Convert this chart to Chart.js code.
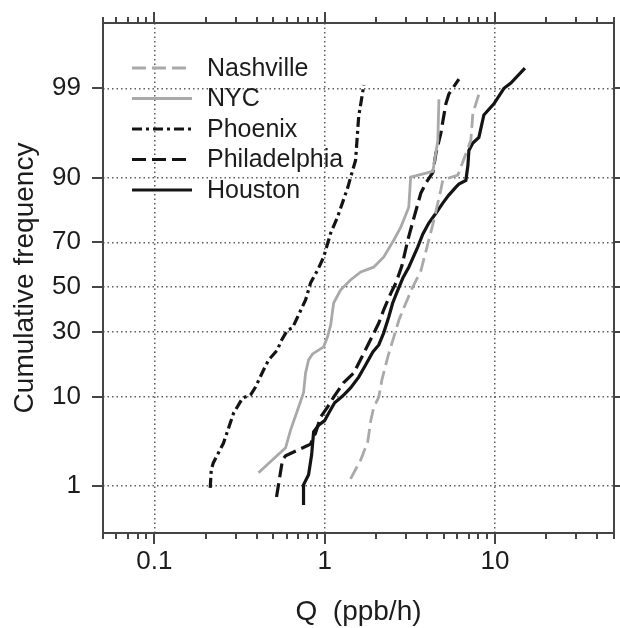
<!DOCTYPE html>
<html>
<head>
<meta charset="utf-8">
<title>Cumulative frequency</title>
<script src="https://cdn.jsdelivr.net/npm/chart.js@4.4.1/dist/chart.umd.min.js"></script>
<style>
  html, body { margin: 0; padding: 0; background: #fff; }
  #grafico { display: block; }
</style>
</head>
<body>
<canvas id="grafico" width="620" height="628"></canvas>
<script>
// Datos: Q (ppb/h) y frecuencia acumulada (%)
const nashvilleQ = [1.42, 1.63, 1.79, 1.87, 1.94, 2.08, 2.17, 2.35, 2.55, 2.73, 3.0, 3.29, 3.67, 4.09, 4.38, 4.81, 4.94, 6.06, 7.22, 7.42, 8.05];
const nashvilleP = [1.24, 2.16, 3.5, 6.0, 7.9, 9.9, 13.9, 20.7, 28.0, 35.0, 42.6, 50.0, 57.4, 70.9, 78.3, 87.2, 89.5, 90.5, 95.7, 97.9, 98.8];

const nycQ = [0.409, 0.59, 0.631, 0.694, 0.752, 0.773, 0.805, 0.85, 0.987, 1.04, 1.085, 1.13, 1.24, 1.42, 1.63, 1.94, 2.22, 2.55, 2.8, 3.12, 3.2, 4.32, 4.62, 4.69];
const nycP = [1.49, 3.0, 4.7, 7.5, 10.8, 15.7, 19.7, 21.7, 24.2, 28.0, 32.8, 42.6, 48.6, 53.3, 57.0, 59.2, 63.7, 70.9, 75.8, 82.5, 90.1, 91.2, 95.7, 98.6];

const phoenixQ = [0.213, 0.216, 0.222, 0.255, 0.292, 0.33, 0.367, 0.393, 0.438, 0.469, 0.529, 0.551, 0.606, 0.648, 0.694, 0.773, 0.827, 0.91, 0.987, 1.085, 1.19, 1.37, 1.42, 1.52, 1.585, 1.7];
const phoenixP = [0.94, 1.62, 1.98, 3.4, 7.0, 9.7, 10.3, 12.1, 16.6, 19.7, 23.1, 26.0, 30.8, 31.6, 36.3, 44.0, 51.9, 57.9, 63.7, 73.6, 79.3, 87.9, 90.0, 93.1, 97.7, 99.1];

const philadelphiaQ = [0.522, 0.566, 0.59, 0.827, 0.885, 0.947, 1.04, 1.13, 1.29, 1.48, 1.7, 1.92, 2.08, 2.22, 2.45, 2.62, 2.84, 3.08, 3.34, 3.67, 3.93, 4.32, 4.5, 4.81, 5.15, 5.36, 6.14];
const philadelphiaP = [0.70, 2.16, 2.41, 3.3, 4.4, 6.4, 8.0, 9.9, 13.1, 15.7, 22.0, 28.7, 33.7, 39.4, 47.2, 51.9, 59.7, 70.9, 79.0, 86.4, 88.8, 91.0, 94.1, 96.4, 98.4, 98.8, 99.25];

const houstonQ = [0.752, 0.752, 0.805, 0.839, 0.862, 0.922, 1.0, 1.056, 1.145, 1.276, 1.42, 1.585, 1.74, 1.92, 2.08, 2.22, 2.38, 2.51, 2.69, 2.88, 3.12, 3.52, 3.77, 4.09, 4.5, 4.94, 5.36, 5.9, 6.14, 6.75, 6.94, 7.03, 7.42, 8.05, 8.61, 9.86, 11.3, 12.4, 15.0];
const houstonP = [0.54, 1.03, 1.40, 2.48, 4.5, 5.3, 5.9, 7.0, 8.8, 10.1, 11.9, 14.6, 18.1, 22.4, 24.9, 29.5, 36.3, 42.6, 48.6, 54.2, 59.2, 68.0, 73.2, 77.3, 80.6, 83.7, 85.9, 87.9, 88.6, 89.4, 92.3, 94.5, 95.4, 96.0, 97.8, 98.4, 99.0, 99.15, 99.48];

const yTickLabels = [1, 10, 30, 50, 70, 90, 99];
const xTickLabels = [0.1, 1, 10];

// Inversa de la normal (aprox. de Acklam) para la escala de probabilidad
function probit(p) {
    const a = [-3.969683028665376e+01, 2.209460984245205e+02, -2.759285104469687e+02, 1.383577518672690e+02, -3.066479806614716e+01, 2.506628277459239e+00];
    const b = [-5.447609879822406e+01, 1.615858368580409e+02, -1.556989798598866e+02, 6.680131188771972e+01, -1.328068155288572e+01];
    const c = [-7.784894002430293e-03, -3.223964580411365e-01, -2.400758277161838e+00, -2.549671010115452e+00, 4.374664141464968e+00, 2.938163982698783e+00];
    const d = [7.784695709041462e-03, 3.224671290700398e-01, 2.445134137142996e+00, 3.754408661907416e+00];
    const plow = 0.02425;
    let q, r;
    if (p < plow) {
        q = Math.sqrt(-2 * Math.log(p));
        return (((((c[0]*q+c[1])*q+c[2])*q+c[3])*q+c[4])*q+c[5]) / ((((d[0]*q+d[1])*q+d[2])*q+d[3])*q+1);
    }
    if (p > 1 - plow) {
        q = Math.sqrt(-2 * Math.log(1 - p));
        return -(((((c[0]*q+c[1])*q+c[2])*q+c[3])*q+c[4])*q+c[5]) / ((((d[0]*q+d[1])*q+d[2])*q+d[3])*q+1);
    }
    q = p - 0.5;
    r = q * q;
    return (((((a[0]*r+a[1])*r+a[2])*r+a[3])*r+a[4])*r+a[5])*q / (((((b[0]*r+b[1])*r+b[2])*r+b[3])*r+b[4])*r+1);
}

function puntos(qs, ps) {
    return qs.map((q, i) => ({ x: q, y: probit(ps[i] / 100) }));
}

function esMayor(v) {
    return xTickLabels.some(t => Math.abs(t - v) < 1e-9);
}

// Sin relleno extra por las etiquetas de los extremos
function sinRelleno(scale) {
    scale.paddingTop = 0;
    scale.paddingBottom = 0;
    scale.paddingLeft = 0;
    scale.paddingRight = 0;
}

const fuente = "'Liberation Sans', Arial, Helvetica, sans-serif";
const gris = '#a9a9a9';
const negro = '#141414';
const colorTexto = '#1c1c1c';

// Marco y marcas de los cuatro lados
const marcoPlugin = {
    id: 'marco',
    afterDraw(chart) {
        const { ctx, chartArea: a, scales: { x, y } } = chart;
        ctx.save();
        ctx.strokeStyle = '#454545';
        ctx.lineWidth = 2;
        ctx.setLineDash([]);
        ctx.beginPath();
        x.ticks.forEach(t => {
            const px = Math.round(x.getPixelForValue(t.value));
            const len = esMayor(t.value) ? 11 : 6;
            ctx.moveTo(px, a.bottom);
            ctx.lineTo(px, a.bottom + len);
            ctx.moveTo(px, a.top);
            ctx.lineTo(px, a.top - len);
        });
        y.ticks.forEach(t => {
            const py = Math.round(y.getPixelForValue(t.value));
            ctx.moveTo(a.left - 11, py);
            ctx.lineTo(a.left, py);
            ctx.moveTo(a.right, py);
            ctx.lineTo(a.right + 6, py);
        });
        ctx.stroke();
        ctx.strokeRect(a.left, a.top, a.right - a.left, a.bottom - a.top);
        ctx.restore();
    }
};

// Leyenda dentro del área del gráfico
const leyendaPlugin = {
    id: 'leyenda',
    afterDatasetsDraw(chart) {
        const { ctx, chartArea: a } = chart;
        ctx.save();
        ctx.font = '25px ' + fuente;
        ctx.textBaseline = 'middle';
        ctx.textAlign = 'left';
        chart.data.datasets.forEach((ds, i) => {
            const yy = a.top + 45 + i * 30.5;
            ctx.strokeStyle = ds.borderColor;
            ctx.lineWidth = ds.borderWidth;
            ctx.setLineDash(ds.borderDash || []);
            ctx.beginPath();
            ctx.moveTo(a.left + 29, yy);
            ctx.lineTo(a.left + 89, yy);
            ctx.stroke();
            ctx.setLineDash([]);
            ctx.fillStyle = colorTexto;
            ctx.fillText(ds.label, a.left + 104, yy + 1);
        });
        ctx.restore();
    }
};

const series = [
    { label: 'Nashville', data: puntos(nashvilleQ, nashvilleP), borderColor: gris, borderWidth: 2.8, borderDash: [14, 6] },
    { label: 'NYC', data: puntos(nycQ, nycP), borderColor: gris, borderWidth: 2.8 },
    { label: 'Phoenix', data: puntos(phoenixQ, phoenixP), borderColor: negro, borderWidth: 3.2, borderDash: [10, 4, 3, 4] },
    { label: 'Philadelphia', data: puntos(philadelphiaQ, philadelphiaP), borderColor: negro, borderWidth: 3.2, borderDash: [14, 6] },
    { label: 'Houston', data: puntos(houstonQ, houstonP), borderColor: negro, borderWidth: 3.2 }
];

const ctx = document.getElementById('grafico').getContext('2d');
const grafico = new Chart(ctx, {
    type: 'scatter',
    data: {
        datasets: series.map(s => Object.assign({
            showLine: true,
            pointRadius: 0,
            tension: 0,
            fill: false,
            borderCapStyle: 'butt'
        }, s))
    },
    options: {
        responsive: false,
        animation: false,
        devicePixelRatio: 1,
        layout: { padding: { top: 23, right: 6, bottom: 0, left: 0 } },
        plugins: {
            legend: { display: false },
            tooltip: { enabled: false }
        },
        scales: {
            x: {
                type: 'logarithmic',
                position: 'bottom',
                min: 0.05,
                max: 50,
                afterBuildTicks(scale) {
                    const vals = [];
                    [0.01, 0.1, 1, 10].forEach(dec => {
                        for (let m = 1; m <= 9; m++) {
                            const v = +(m * dec).toPrecision(3);
                            if (v >= 0.05 && v <= 50) vals.push(v);
                        }
                    });
                    scale.ticks = vals.map(v => ({ value: v }));
                },
                afterFit(scale) {
                    scale.height = 95;
                    sinRelleno(scale);
                },
                ticks: {
                    autoSkip: false,
                    maxRotation: 0,
                    padding: 13,
                    color: colorTexto,
                    font: { family: fuente, size: 26 },
                    callback: (v) => esMayor(v) ? String(v) : ''
                },
                grid: {
                    drawTicks: false,
                    lineWidth: 1.5,
                    color: (c) => (c.tick && esMayor(c.tick.value)) ? '#5e5e5e' : 'rgba(0,0,0,0)'
                },
                border: { display: false, dash: [1.5, 3] },
                title: {
                    display: true,
                    text: 'Q  (ppb/h)',
                    color: colorTexto,
                    font: { family: fuente, size: 28, lineHeight: 1.1 },
                    padding: { top: 0, bottom: 0 }
                }
            },
            y: {
                type: 'linear',
                min: probit(0.002),
                max: probit(0.999),
                afterBuildTicks(scale) {
                    scale.ticks = yTickLabels.map(p => ({ value: probit(p / 100) }));
                },
                afterFit(scale) {
                    scale.width = 103;
                    sinRelleno(scale);
                },
                ticks: {
                    autoSkip: false,
                    padding: 22,
                    color: colorTexto,
                    font: { family: fuente, size: 26 },
                    callback: (v, i) => String(yTickLabels[i])
                },
                grid: {
                    drawTicks: false,
                    lineWidth: 1.5,
                    color: '#5e5e5e'
                },
                border: { display: false, dash: [1.5, 3] },
                title: {
                    display: true,
                    text: 'Cumulative frequency',
                    color: colorTexto,
                    font: { family: fuente, size: 28 },
                    padding: { top: 8, bottom: 0 }
                }
            }
        }
    },
    plugins: [marcoPlugin, leyendaPlugin]
});
</script>
</body>
</html>
